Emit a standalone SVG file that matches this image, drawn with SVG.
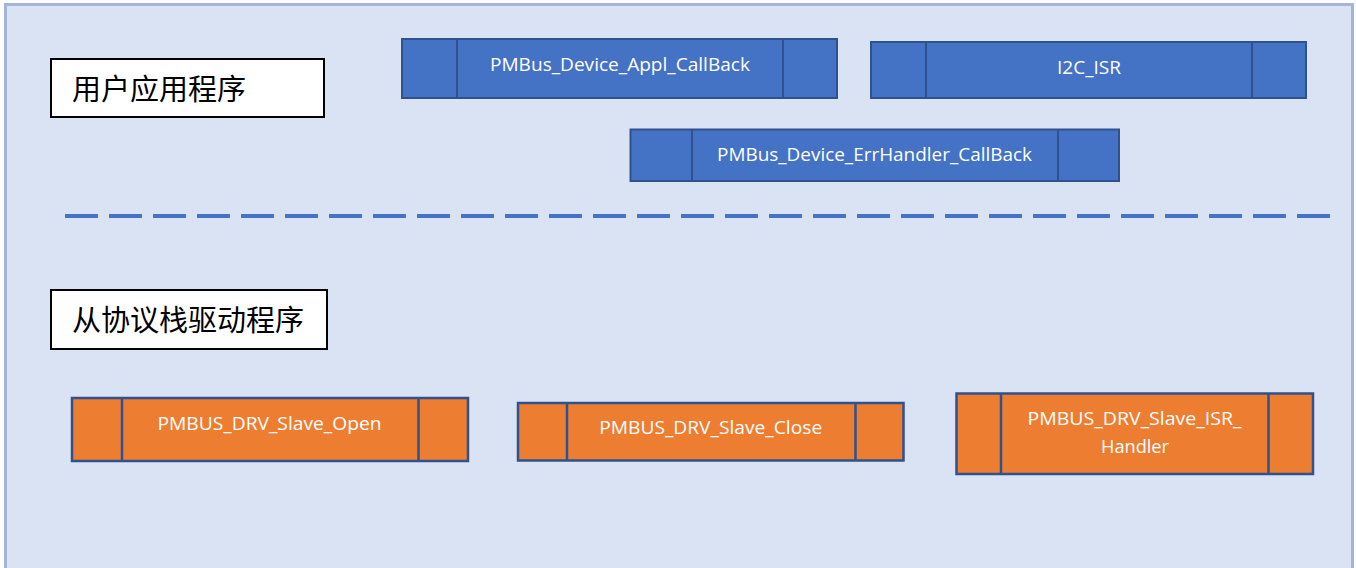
<svg xmlns="http://www.w3.org/2000/svg" width="1356" height="568" viewBox="0 0 1356 568">
  <style>
    .panel { fill: #dae3f3; stroke: #a6b5d7; stroke-width: 3; }
    .label { fill: #ffffff; stroke: #000000; stroke-width: 2; }
    .label-text { font-family: "Noto Sans CJK SC", "Noto Sans", sans-serif; font-size: 29px; fill: #000000; }
    .blue { fill: #4472c4; stroke: #2f528f; stroke-width: 2; }
    .orange { fill: #ed7d31; stroke: #2f528f; stroke-width: 2.5; }
    .div-blue { stroke: #2f528f; stroke-width: 2; }
    .div-orange { stroke: #2f528f; stroke-width: 2.5; }
    .t { font-family: "Open Sans", "Liberation Sans", sans-serif; font-size: 18px; fill: #ffffff; text-anchor: middle; }
    .dash { stroke: #4472c4; stroke-width: 4; stroke-dasharray: 33 11; fill: none; }
  </style>

  <rect class="panel" x="5.5" y="4.5" width="1347" height="575"/>

  <g id="label-user-app">
    <rect class="label" x="51" y="59" width="273" height="58"/>
    <text class="label-text" x="72" y="100">用户应用程序</text>
  </g>

  <g id="label-slave-driver">
    <rect class="label" x="51" y="290" width="276" height="59"/>
    <text class="label-text" x="72" y="331">从协议栈驱动程序</text>
  </g>

  <g id="node-appl-callback">
    <rect class="blue" x="402" y="39" width="435" height="59"/>
    <line class="div-blue" x1="457" y1="39" x2="457" y2="98"/>
    <line class="div-blue" x1="783" y1="39" x2="783" y2="98"/>
    <text class="t" x="620" y="71" textLength="260" lengthAdjust="spacingAndGlyphs">PMBus_Device_Appl_CallBack</text>
  </g>

  <g id="node-i2c-isr">
    <rect class="blue" x="871" y="42" width="435" height="56"/>
    <line class="div-blue" x1="926" y1="42" x2="926" y2="98"/>
    <line class="div-blue" x1="1252" y1="42" x2="1252" y2="98"/>
    <text class="t" x="1089" y="74" textLength="64" lengthAdjust="spacingAndGlyphs">I2C_ISR</text>
  </g>

  <g id="node-errhandler-callback">
    <rect class="blue" x="630.5" y="129.5" width="488.5" height="51.5"/>
    <line class="div-blue" x1="692" y1="129.5" x2="692" y2="181"/>
    <line class="div-blue" x1="1058" y1="129.5" x2="1058" y2="181"/>
    <text class="t" x="874.5" y="160.5" textLength="315" lengthAdjust="spacingAndGlyphs">PMBus_Device_ErrHandler_CallBack</text>
  </g>

  <g id="connectors">
    <line class="dash" x1="65" y1="216" x2="1330" y2="216"/>
  </g>

  <g id="node-slave-open">
    <rect class="orange" x="72" y="398" width="396" height="63"/>
    <line class="div-orange" x1="122" y1="398" x2="122" y2="461"/>
    <line class="div-orange" x1="418.5" y1="398" x2="418.5" y2="461"/>
    <text class="t" x="269.5" y="430" textLength="224" lengthAdjust="spacingAndGlyphs">PMBUS_DRV_Slave_Open</text>
  </g>

  <g id="node-slave-close">
    <rect class="orange" x="518" y="403" width="385.5" height="57.5"/>
    <line class="div-orange" x1="567" y1="403" x2="567" y2="460.5"/>
    <line class="div-orange" x1="855.5" y1="403" x2="855.5" y2="460.5"/>
    <text class="t" x="710.7" y="434.3" textLength="223" lengthAdjust="spacingAndGlyphs">PMBUS_DRV_Slave_Close</text>
  </g>

  <g id="node-slave-isr-handler">
    <rect class="orange" x="956.5" y="393.5" width="356.5" height="80.5"/>
    <line class="div-orange" x1="1001" y1="393.5" x2="1001" y2="474"/>
    <line class="div-orange" x1="1268.5" y1="393.5" x2="1268.5" y2="474"/>
    <text class="t" x="1134.5" y="425" textLength="214" lengthAdjust="spacingAndGlyphs">PMBUS_DRV_Slave_ISR_</text>
    <text class="t" x="1135" y="452.5" textLength="68" lengthAdjust="spacingAndGlyphs">Handler</text>
  </g>
</svg>
